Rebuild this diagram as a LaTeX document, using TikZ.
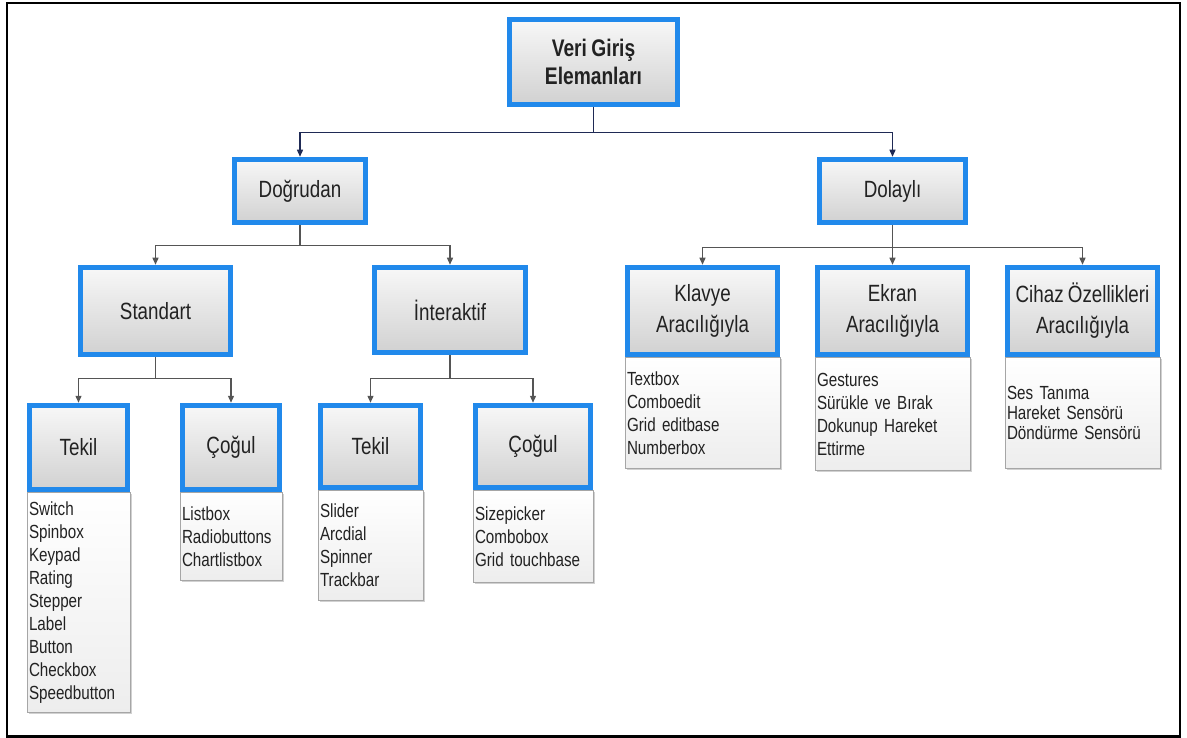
\documentclass[tikz,border=0pt]{standalone}
\usepackage{fontspec}
\setmainfont{Liberation Sans}[FakeStretch=0.8]
\usetikzlibrary{arrows.meta,shadows}

\definecolor{frameblue}{HTML}{2189EB}
\definecolor{navy}{HTML}{1F2A55}
\definecolor{linkgray}{HTML}{555555}
\definecolor{ink}{HTML}{222222}

\newcommand{\headfont}{\fontsize{23.5}{31}\selectfont\fontdimen2\font 4.2pt\relax}
\newcommand{\rootfont}{\bfseries\fontsize{24}{28}\selectfont\fontdimen2\font 4.5pt\relax}
\newcommand{\itemfont}{\fontsize{19}{23}\selectfont\fontdimen2\font 3.2pt\relax}
\newcommand{\itemfonttight}{\fontsize{19}{20}\selectfont\fontdimen2\font 3.2pt\relax}

\begin{document}
\begin{tikzpicture}[
  x=1pt, y=-1pt,
  every node/.style={text=ink},
  head/.style={draw=frameblue, line width=5.5pt, top color=black!3, bottom color=black!18,
               align=center, inner sep=0pt, font=\headfont},
  listbox/.style={draw=black!35, line width=0.6pt, top color=white, bottom color=black!7,
                  anchor=north, align=left, inner xsep=2pt, inner ysep=0pt,
                  font=\itemfont,
                  drop shadow={shadow xshift=1.5pt, shadow yshift=-1.5pt, opacity=0.3, fill=black!60}},
  link/.style={-{Triangle[length=7pt, width=6pt]}, line width=1.3pt, draw=#1},
]
\useasboundingbox (0,0) rectangle (1187,738);

% ── Frame ──
\draw[line width=2.5pt] (7,3) rectangle (1180,736.5);

% ── Root ──
\node[head, minimum width=168, minimum height=85, font=\rootfont] (root) at (593.5,62) {Veri Giriş\\Elemanları};

% ── Level 1 ──
\node[head, minimum width=131, minimum height=63] (dogru) at (300,191) {Doğrudan};
\node[head, minimum width=146, minimum height=63] (dolayli) at (892.5,191) {Dolaylı};

% ── Level 2 (Doğrudan) ──
\node[head, minimum width=150, minimum height=87] (standart) at (155.5,311) {Standart};
\node[head, minimum width=151, minimum height=85] (interaktif) at (450,310) {İnteraktif};

% ── Level 2 (Dolaylı) ──
\node[head, minimum width=150, minimum height=87] (klavye) at (702.5,311) {Klavye\\Aracılığıyla};
\node[head, minimum width=150, minimum height=87] (ekran) at (892.5,311) {Ekran\\Aracılığıyla};
\node[head, minimum width=150, minimum height=87] (cihaz) at (1082.5,311) {Cihaz Özellikleri\\Aracılığıyla};

% ── Level 3 ──
\node[head, minimum width=98, minimum height=84] (tekilA) at (78.5,447.5) {Tekil};
\node[head, minimum width=97, minimum height=84] (cogulA) at (231,447.5) {Çoğul};
\node[head, minimum width=100, minimum height=82] (tekilB) at (370.5,446.5) {Tekil};
\node[head, minimum width=115, minimum height=82] (cogulB) at (533,446.5) {Çoğul};

% ── Lists ──
\node[listbox, text width=99, minimum height=220] (listTekilA) at (tekilA.south)
  {Switch\\Spinbox\\Keypad\\Rating\\Stepper\\Label\\Button\\Checkbox\\Speedbutton};
\node[listbox, text width=98, minimum height=88] (listCogulA) at (cogulA.south)
  {Listbox\\Radiobuttons\\Chartlistbox};
\node[listbox, text width=101, minimum height=110] (listTekilB) at (tekilB.south)
  {Slider\\Arcdial\\Spinner\\Trackbar};
\node[listbox, text width=116, minimum height=92] (listCogulB) at (cogulB.south)
  {Sizepicker\\Combobox\\Grid touchbase};
\node[listbox, text width=151, minimum height=111] (listKlavye) at (klavye.south)
  {Textbox\\Comboedit\\Grid editbase\\Numberbox};
\node[listbox, text width=151, minimum height=113] (listEkran) at (ekran.south)
  {Gestures\\Sürükle ve Bırak\\Dokunup Hareket\\Ettirme};
\node[listbox, text width=151, minimum height=111, font=\itemfonttight] (listCihaz) at (cihaz.south)
  {Ses Tanıma\\Hareket Sensörü\\Döndürme Sensörü};

% ── Arrows ──
\draw[link=navy] (root.south) -- ++(0,25) -| (dogru.north);
\draw[link=navy] (root.south) -- ++(0,25) -| (dolayli.north);

\draw[link=linkgray] (dogru.south) -- ++(0,20) -| (standart.north);
\draw[link=linkgray] (dogru.south) -- ++(0,20) -| (interaktif.north);

\draw[link=linkgray] (dolayli.south) -- ++(0,22) -| (klavye.north);
\draw[link=linkgray] (dolayli.south) -- ++(0,22) -| (ekran.north);
\draw[link=linkgray] (dolayli.south) -- ++(0,22) -| (cihaz.north);

\draw[link=linkgray] (standart.south) -- ++(0,21) -| (tekilA.north);
\draw[link=linkgray] (standart.south) -- ++(0,21) -| (cogulA.north);
\draw[link=linkgray] (interaktif.south) -- ++(0,23) -| (tekilB.north);
\draw[link=linkgray] (interaktif.south) -- ++(0,23) -| (cogulB.north);

\end{tikzpicture}
\end{document}
